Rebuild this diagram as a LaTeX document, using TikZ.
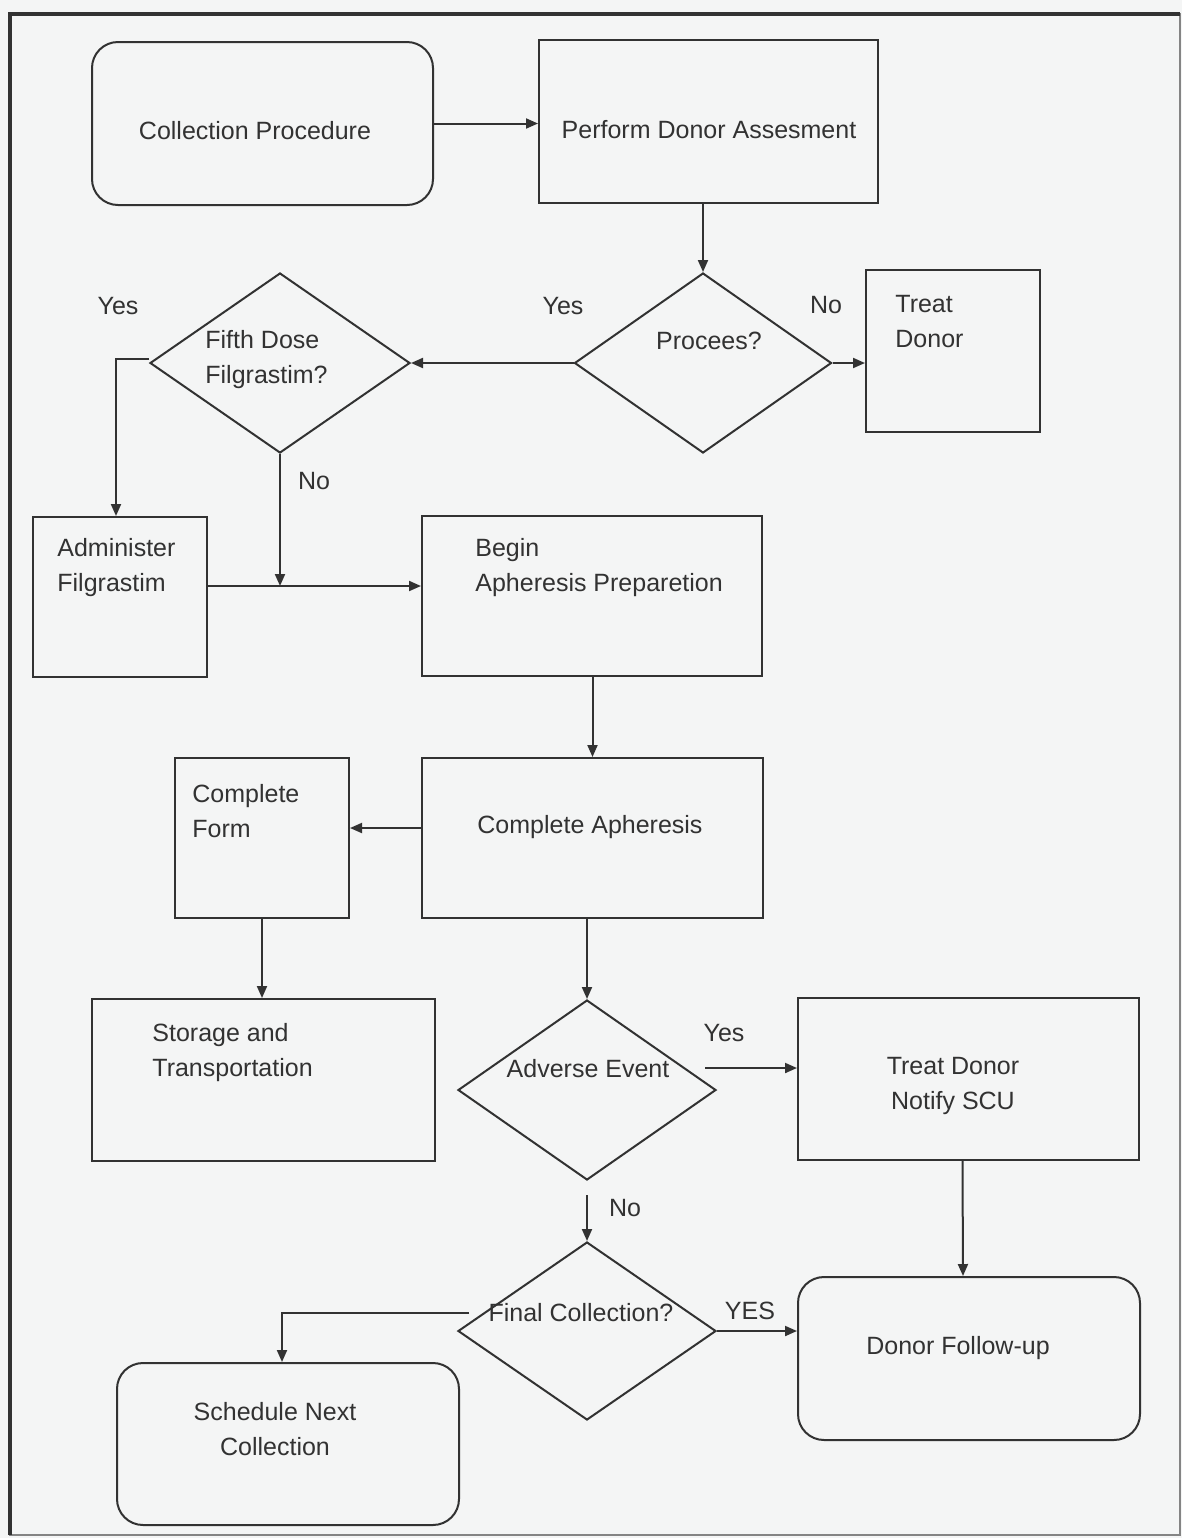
\documentclass[tikz,border=0pt]{standalone}
\usepackage{fontspec}
\setmainfont{Liberation Sans}
\usetikzlibrary{shapes.geometric,arrows.meta}
\definecolor{ink}{RGB}{50,50,50}
\definecolor{paper}{RGB}{244,245,245}

\begin{document}
\begin{tikzpicture}[x=0.5pt,y=-0.5pt,
    every node/.style={font=\fontsize{12.5}{17.5}\selectfont, text=ink},
    box/.style={draw=ink, line width=1pt, inner sep=0pt},
    rbox/.style={box, rounded corners=13pt},
    dia/.style={draw=ink, line width=1pt, diamond, inner sep=0pt, minimum width=129pt, minimum height=90pt},
    arr/.style={draw=ink, line width=1pt, -{Triangle[length=6pt,width=5pt]}},
    lft/.style={anchor=west, align=left, inner xsep=0pt}]
    \fill[paper] (0,0) rectangle (1182,1538);
    \useasboundingbox (0,0) rectangle (1182,1538);
    % frame
    \draw[ink!60, line width=0.6pt] (10,14) rectangle (1180,1535);
    \draw[ink, line width=2pt] (10,1535) -- (10,14) -- (1180,14);

    % boxes and decisions
    \node[rbox, minimum width=170.5pt, minimum height=81.5pt] (cp) at (262.5,123.5) {};
    \node[box, minimum width=169.5pt, minimum height=81.5pt] (pda) at (708.5,121.5) {};
    \node[dia, minimum width=128.5pt] (proc) at (703,363) {};
    \node[box, minimum width=87pt, minimum height=81pt] (treat) at (953,351) {};
    \node[dia, minimum width=130pt] (fifth) at (280,363) {};
    \node[box, minimum width=87pt, minimum height=80pt] (adm) at (120,597) {};
    \node[box, minimum width=170pt, minimum height=80pt] (begin) at (592,596) {};
    \node[box, minimum width=170.5pt, minimum height=80pt] (capher) at (592.5,838) {};
    \node[box, minimum width=87pt, minimum height=80pt] (cform) at (262,838) {};
    \node[box, minimum width=171.5pt, minimum height=81pt] (store) at (263.5,1080) {};
    \node[dia] (adv) at (587,1090) {};
    \node[box, minimum width=170.5pt, minimum height=81pt] (tdn) at (968.5,1079) {};
    \node[dia, minimum height=89pt] (fin) at (587,1331) {};
    \node[rbox, minimum width=171pt, minimum height=81.5pt] (dfu) at (969,1358.5) {};
    \node[rbox, minimum width=171pt, minimum height=81pt] (sched) at (288,1444) {};

    % texts
    \node (cp-t) at (255,131) {Collection Procedure};
    \node (pda-t) at (709,130) {Perform Donor Assesment};
    \node (proc-t) at (709,341) {Procees?};
    \node[lft] (treat-t) at (895,322) {Treat\\Donor};
    \node[lft] (fifth-t) at (205,360) {Fifth Dose\\Filgrastim?};
    \node[lft] (adm-t) at (57,568) {Administer\\Filgrastim};
    \node[lft] (begin-t) at (475,568) {Begin\\Apheresis Preparetion};
    \node (capher-t) at (590,827) {Complete Apheresis};
    \node[lft] (cform-t) at (192,811) {Complete\\Form};
    \node[lft] (store-t) at (152,1053) {Storage and\\Transportation};
    \node (adv-t) at (588,1069) {Adverse Event};
    \node[align=center] (tdn-t) at (953,1086) {Treat Donor\\Notify SCU};
    \node (fin-t) at (581,1313) {Final Collection?};
    \node (dfu-t) at (958,1348) {Donor Follow-up};
    \node[align=center] (sched-t) at (275,1429) {Schedule Next\\Collection};

    % branch labels
    \node (yes1) at (563,306) {Yes};
    \node (no1) at (826,305) {No};
    \node (yes2) at (118,306) {Yes};
    \node (no2) at (314,481) {No};
    \node (yes3) at (724,1033) {Yes};
    \node (no3) at (625,1208) {No};
    \node (yes4) at (750,1311) {YES};

    % connectors
    \draw[arr] (cp.east) -- (cp.east -| pda.west);
    \draw[arr] (proc.north |- pda.south) -- (proc.north);
    \draw[arr] (proc.east) -- (proc.east -| treat.west);
    \draw[arr] (proc.west) -- (fifth.east);
    \draw[arr] ([yshift=2pt]fifth.west) -| ([xshift=-2pt]adm.north);
    \coordinate (jn) at (280,586);
    \draw[arr] (fifth.south) -- (jn);
    \draw[arr] (adm.east |- jn) -- (jn -| begin.west);
    \draw[arr] (capher.north |- begin.south) -- (capher.north);
    \draw[arr] ([yshift=5pt]capher.west) -- ([yshift=5pt]cform.east);
    \draw[arr] (cform.south) -- (cform.south |- store.north);
    \draw[arr] (adv.north |- capher.south) -- (adv.north);
    \draw[arr] ([shift={(-12,-22)}]adv.east) coordinate (ay) -- (ay -| tdn.west);
    \draw[arr] ([xshift=-3pt]tdn.south) -- ([xshift=-3pt]dfu.north);
    \draw[arr, shorten <=7pt] (adv.south) -- (fin.north);
    \draw[arr] (fin.east) -- (fin.east -| dfu.west);
    \draw[arr] ([shift={(12,-18)}]fin.west) -| ([xshift=-3pt]sched.north);
\end{tikzpicture}
\end{document}
